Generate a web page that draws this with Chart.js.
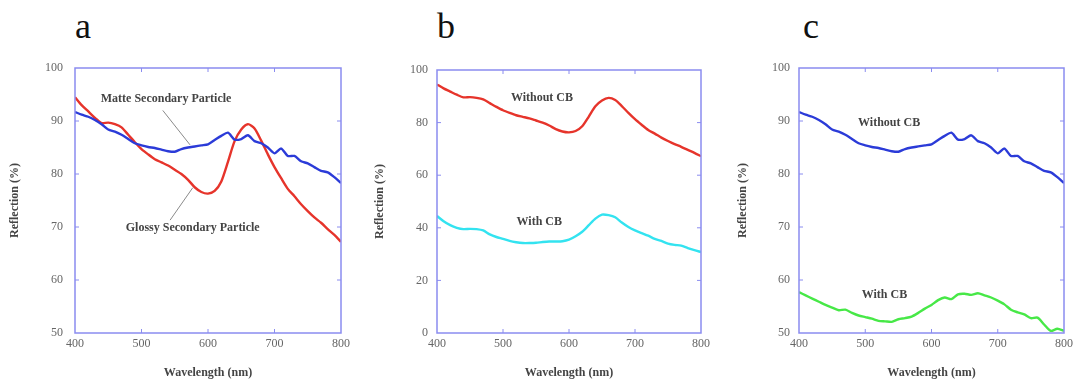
<!DOCTYPE html>
<html lang="en">
<head>
  <meta charset="UTF-8" />
  <title>Reflection spectra</title>
  <style>
    body {
      margin: 0;
      background: #fff;
      width: 1077px;
      height: 380px;
      position: relative;
      overflow: hidden;
    }
    .panel {
      position: absolute;
      top: 0;
      width: 360px;
      height: 380px;
    }
    .letter {
      position: absolute;
      top: 8px;
      font-family: 'Liberation Serif', serif;
      font-size: 36px;
      line-height: 36px;
      color: #111;
    }
  </style>
  <script src="https://cdn.jsdelivr.net/npm/chart.js"></script>
</head>
<body>
  <div class="letter" style="left:75px">a</div>
  <div class="letter" style="left:437px">b</div>
  <div class="letter" style="left:803px">c</div>

  <div class="panel" style="left:0px"><canvas id="chartA" width="360" height="380"></canvas></div>
  <div class="panel" style="left:360px"><canvas id="chartB" width="360" height="380"></canvas></div>
  <div class="panel" style="left:717px"><canvas id="chartC" width="360" height="380"></canvas></div>

  <script>
    // wavelength grid (nm), every 10 nm
    const wavelengths = [400,410,420,430,440,450,460,470,480,490,500,510,520,530,540,550,560,570,580,590,600,
                         610,620,630,640,650,660,670,680,690,700,710,720,730,740,750,760,770,780,790,800];

    // glossy particle / without CB (red in a and b)
    const glossy = [94.5,93.0,91.8,90.6,89.6,89.7,89.4,88.8,87.4,86.0,84.7,83.7,82.8,82.2,81.6,80.8,80.0,78.9,77.5,76.6,76.3,
                    76.8,78.6,82.3,86.2,88.4,89.4,88.6,86.3,83.7,81.3,79.2,77.2,75.8,74.3,73.0,71.8,70.8,69.6,68.5,67.2];

    // matte particle / without CB (blue in a and c)
    const matte = [91.7,91.2,90.8,90.2,89.4,88.4,88.0,87.4,86.6,85.8,85.4,85.1,84.9,84.6,84.3,84.2,84.7,85.0,85.2,85.4,85.6,
                   86.4,87.2,87.8,86.5,86.6,87.3,86.2,85.8,85.0,83.9,84.8,83.4,83.4,82.4,82.0,81.3,80.6,80.3,79.4,78.3];

    // glossy with CB (cyan, panel b)
    const glossyCB = [44.5,42.5,41.0,40.0,39.5,39.6,39.5,39.0,37.5,36.5,35.8,35.0,34.5,34.2,34.2,34.3,34.6,34.8,34.8,34.9,35.5,
                      36.8,38.5,41.0,43.5,45.0,44.8,44.0,42.0,40.3,39.0,38.0,37.0,35.8,35.0,34.0,33.5,33.2,32.3,31.5,30.8];

    // matte with CB (green, panel c)
    const matteCB = [57.7,57.1,56.5,55.9,55.3,54.8,54.3,54.4,53.8,53.3,53.0,52.7,52.3,52.2,52.1,52.6,52.8,53.1,53.8,54.6,55.3,
                     56.2,56.7,56.4,57.3,57.4,57.2,57.5,57.1,56.7,56.1,55.4,54.4,53.9,53.5,52.8,52.9,51.6,50.4,50.8,50.4];

    const xTicks = [400, 500, 600, 700, 800];

    const serif = "'Liberation Serif', 'Times New Roman', serif";

    function toPoints(values) {
      return wavelengths.map((w, i) => ({ x: w, y: values[i] }));
    }

    // blue frame with small inward ticks, plus text notes and leader lines
    const framePlugin = {
      id: 'notes',
      afterDatasetsDraw(chart, args, opts) {
        const ctx = chart.ctx;
        const area = chart.chartArea;
        const xs = chart.scales.x;
        const ys = chart.scales.y;
        ctx.save();

        // leader lines
        ctx.strokeStyle = '#8a8a8a';
        ctx.lineWidth = 1;
        (opts.lines || []).forEach(l => {
          ctx.beginPath();
          ctx.moveTo(xs.getPixelForValue(l[0]), ys.getPixelForValue(l[1]));
          ctx.lineTo(xs.getPixelForValue(l[2]), ys.getPixelForValue(l[3]));
          ctx.stroke();
        });

        // frame
        ctx.strokeStyle = '#8a8cf0';
        ctx.lineWidth = 1.5;
        ctx.strokeRect(area.left, area.top, area.right - area.left, area.bottom - area.top);

        // inward ticks
        const len = 4;
        ctx.lineWidth = 1;
        xs.ticks.forEach(t => {
          if (t.value === xs.min || t.value === xs.max) return;
          const px = xs.getPixelForValue(t.value);
          ctx.beginPath();
          ctx.moveTo(px, area.bottom); ctx.lineTo(px, area.bottom - len);
          ctx.moveTo(px, area.top); ctx.lineTo(px, area.top + len);
          ctx.stroke();
        });
        ys.ticks.forEach(t => {
          if (t.value === ys.min || t.value === ys.max) return;
          const py = ys.getPixelForValue(t.value);
          ctx.beginPath();
          ctx.moveTo(area.left, py); ctx.lineTo(area.left + len, py);
          ctx.moveTo(area.right, py); ctx.lineTo(area.right - len, py);
          ctx.stroke();
        });

        // text notes
        ctx.font = 'bold 12px ' + serif;
        ctx.fillStyle = '#444';
        ctx.textAlign = 'center';
        ctx.textBaseline = 'middle';
        (opts.items || []).forEach(n => {
          ctx.fillText(n.text, xs.getPixelForValue(n.x), ys.getPixelForValue(n.y));
        });
        ctx.restore();
      }
    };

    function makePanel(id, p) {
      return new Chart(document.getElementById(id), {
        type: 'line',
        data: {
          datasets: p.series.map(s => ({
            data: toPoints(s.values),
            borderColor: s.color,
            borderWidth: 2.4,
            pointRadius: 0,
            tension: 0.25,
            fill: false
          }))
        },
        options: {
          responsive: false,
          animation: false,
          layout: { padding: { left: 0, right: p.right, top: p.top, bottom: 0 } },
          plugins: {
            legend: { display: false },
            tooltip: { enabled: false },
            notes: { items: p.notes, lines: p.lines || [] }
          },
          scales: {
            x: {
              type: 'linear',
              min: 400,
              max: 800,
              afterBuildTicks: s => { s.ticks = xTicks.map(v => ({ value: v })); },
              afterFit: s => { s.height = 47; },
              grid: { display: false, drawTicks: false },
              border: { display: false },
              ticks: { padding: 4, color: '#666', font: { family: serif, size: 12 } },
              title: {
                display: true,
                text: 'Wavelength (nm)',
                color: '#444',
                padding: { top: 0, bottom: 0 },
                font: { family: serif, size: 12, weight: 'bold' }
              }
            },
            y: {
              min: p.yMin,
              max: p.yMax,
              afterFit: s => { s.width = p.yWidth; },
              grid: { display: false, drawTicks: false },
              border: { display: false },
              ticks: { stepSize: p.yStep, padding: p.tickPad, color: '#666', font: { family: serif, size: 12 } },
              title: {
                display: true,
                text: 'Reflection (%)',
                color: '#444',
                padding: { top: p.titlePad, bottom: 0 },
                font: { family: serif, size: 12, weight: 'bold' }
              }
            }
          }
        },
        plugins: [framePlugin]
      });
    }

    makePanel('chartA', {
      top: 68, right: 19, yWidth: 75, tickPad: 12, titlePad: 8,
      yMin: 50, yMax: 100, yStep: 10,
      series: [
        { values: matte, color: '#2b3bd8' },
        { values: glossy, color: '#e6342b' }
      ],
      notes: [
        { text: 'Matte Secondary Particle', x: 537, y: 94.1 },
        { text: 'Glossy Secondary Particle', x: 577, y: 69.8 }
      ],
      lines: [
        [532, 92.0, 573, 85.5],
        [577, 77.4, 543, 71.3]
      ]
    });

    makePanel('chartB', {
      top: 70, right: 19, yWidth: 77, tickPad: 9, titlePad: 13,
      yMin: 0, yMax: 100, yStep: 20,
      series: [
        { values: glossy, color: '#e6342b' },
        { values: glossyCB, color: '#33e3f0' }
      ],
      notes: [
        { text: 'Without CB', x: 559, y: 89.4 },
        { text: 'With CB', x: 555, y: 42.3 }
      ]
    });

    makePanel('chartC', {
      top: 68, right: 11, yWidth: 82, tickPad: 9, titlePad: 19,
      yMin: 50, yMax: 100, yStep: 10,
      series: [
        { values: matte, color: '#2b3bd8' },
        { values: matteCB, color: '#47e847' }
      ],
      notes: [
        { text: 'Without CB', x: 536, y: 89.6 },
        { text: 'With CB', x: 529, y: 57.2 }
      ]
    });
  </script>
</body>
</html>
